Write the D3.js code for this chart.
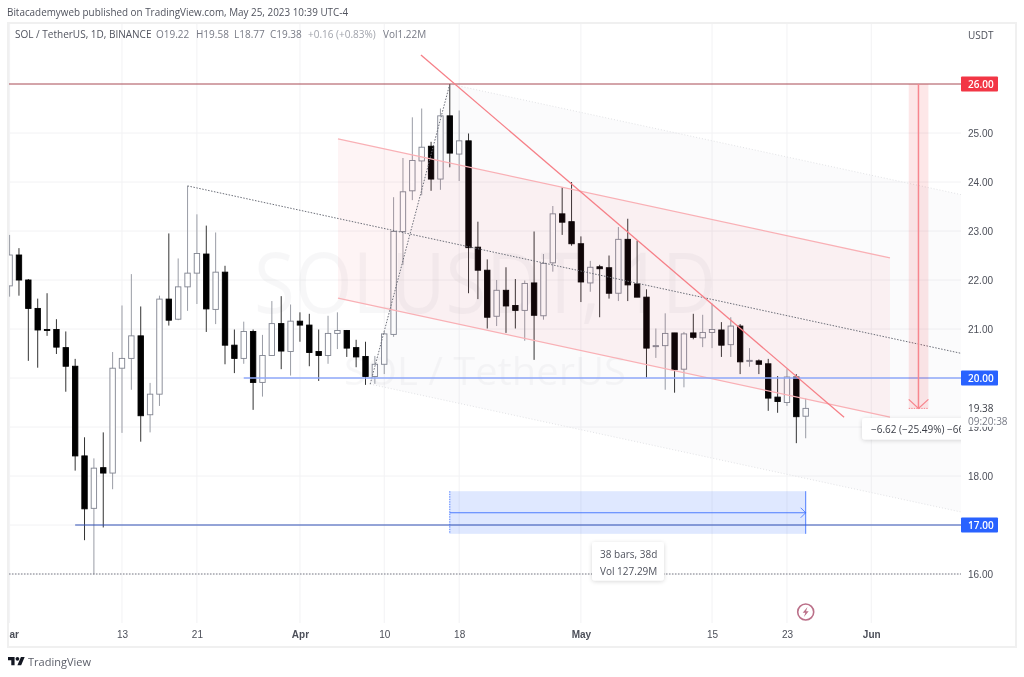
<!DOCTYPE html>
<html>
<head>
<meta charset="utf-8">
<script src="https://cdn.jsdelivr.net/npm/d3@7"></script>
<style>
  html, body { margin: 0; padding: 0; background: #fff; }
  svg { display: block; filter: blur(0.35px); font-family: "Open Sans", sans-serif; }
</style>
</head>
<body>
<div id="chart"></div>
<script>
// one entry per daily bar, Mar 1 2023 is bar 0
let opens = [21.88,22.51,22.00,21.42,20.99,20.99,20.62,20.24,18.41,17.34,18.17,18.06,20.20,20.40,20.86,19.25,19.67,21.61,21.20,21.86,
  22.14,22.53,21.40,22.16,20.67,20.40,20.95,19.91,20.46,21.11,20.54,21.16,21.08,20.54,20.46,20.91,20.97,20.62,20.44,20.03,
  20.28,20.89,22.99,23.82,24.43,24.73,24.06,25.35,24.57,24.84,22.67,22.20,21.26,21.79,21.48,21.38,21.94,21.27,22.35,23.35,
  23.19,22.74,21.94,22.27,22.25,21.73,22.83,21.92,21.65,20.64,20.66,20.92,20.18,20.92,20.82,20.93,20.98,20.68,21.06,20.35,
  20.35,20.29,19.61,19.50,20.02,19.22]
let highs = [22.92,22.65,22.02,21.62,21.73,21.20,20.95,20.39,18.79,18.36,18.89,20.53,21.48,22.12,21.46,19.90,21.68,22.95,22.44,23.92,
  23.34,23.11,22.97,22.29,20.99,21.15,20.99,20.88,21.57,21.67,21.50,21.34,21.31,20.99,21.27,21.34,20.98,20.78,20.74,20.45,
  20.94,23.69,24.49,25.32,25.50,24.82,25.50,26.00,25.46,24.99,23.19,22.42,22.00,22.26,22.02,21.99,22.99,22.53,23.51,23.89,
  24.00,22.89,22.39,22.31,22.50,23.08,23.25,22.80,21.81,21.01,21.32,20.92,20.94,21.31,21.29,21.52,21.14,21.24,21.10,20.61,
  20.38,20.39,20.04,20.18,20.08,19.58]
let lows = [21.66,21.68,20.35,20.21,20.86,20.49,19.72,18.11,16.69,15.99,16.95,17.73,18.88,19.76,18.70,18.89,19.43,21.07,21.18,21.37,
  21.51,20.94,21.10,20.28,20.10,20.29,19.35,19.62,20.45,20.18,20.05,20.74,20.24,19.94,20.29,20.59,20.43,20.22,19.86,19.88,
  20.08,20.84,22.31,23.63,23.73,23.82,23.84,24.30,24.02,21.73,21.61,21.01,21.06,20.92,21.01,20.76,20.37,21.19,22.17,22.92,
  22.70,21.55,21.76,21.24,21.62,21.57,21.57,21.65,20.01,20.41,19.76,19.70,19.81,20.79,20.63,20.61,20.43,20.43,20.08,20.23,
  20.08,19.33,19.29,19.43,18.67,18.77]
let closes = [22.51,22.00,21.42,20.98,20.97,20.63,20.24,18.41,17.33,18.16,18.06,20.20,20.40,20.86,19.23,19.67,21.61,21.18,21.86,22.14,
  22.54,21.41,22.16,20.67,20.40,20.95,19.91,20.46,21.11,20.55,21.16,21.08,20.52,20.46,20.91,20.97,20.61,20.43,20.03,20.28,
  20.90,22.99,23.80,24.44,24.71,24.06,25.35,24.59,24.84,22.66,22.20,21.24,21.79,21.47,21.38,21.93,21.28,22.34,23.35,23.18,
  22.74,21.96,22.26,22.23,21.73,22.83,21.90,21.65,20.61,20.66,20.91,20.17,20.90,20.83,20.93,20.99,20.67,21.06,20.33,20.36,
  20.28,19.59,19.52,20.02,19.21,19.38]

let priceTicks = [25, 24, 23, 22, 21, 19, 18, 16]
let gridPrices = [25, 24, 23, 22, 21, 20, 19, 18, 17, 16]
let timeBars = [0, 12, 20, 31, 40, 48, 61, 75, 83, 92]
let timeLabels = ['Mar', '13', '21', 'Apr', '10', '18', 'May', '15', '23', 'Jun']
let monthLabels = ['Mar', 'Apr', 'May', 'Jun']

let levelPrices = [26, 20, 17]
let levelColors = ['#f23645', '#2962ff', '#2962ff']

// drawings, as [bar, price]
let forkPivot = [19, 23.92]
let forkLow = [38.5, 19.875]
let forkHigh = [47, 26]
let channelTop = [[35.06, 24.88], [94, 22.45]]
let channelBottom = [[35.06, 21.63], [94, 19.2]]
let trendLine = [[43.92, 26.59], [89.1, 19.2]]

let width = 1024
let height = 677
let paneRight = 961
let paneBottom = 623

let x = d3.scaleLinear().domain([0, 85]).range([9.6, 805.7])
let y = d3.scaleLinear().domain([16, 26]).range([574, 84])
let lastBar = x.invert(paneRight)

let svg = d3
  .select('#chart')
  .append('svg')
  .attr('width', width)
  .attr('height', height)

let defs = svg.append('defs')
defs.append('clipPath').attr('id', 'pane')
  .append('rect').attr('x', 9).attr('y', 24).attr('width', paneRight - 9).attr('height', paneBottom - 24)
defs.append('clipPath').attr('id', 'frame')
  .append('rect').attr('x', 9).attr('y', 24).attr('width', 1006).attr('height', 622)
let shadow = defs.append('filter').attr('id', 'shadow')
  .attr('x', '-20%').attr('y', '-30%').attr('width', '140%').attr('height', '160%')
shadow.append('feDropShadow').attr('dx', 0).attr('dy', 1).attr('stdDeviation', 2)
  .attr('flood-color', '#000').attr('flood-opacity', 0.16)

let line = d3.line().x(d => x(d[0])).y(d => y(d[1]))

function extend(p, slope, toBar) {
  return [toBar, p[1] + (toBar - p[0]) * slope]
}

// header
svg.append('text').attr('x', 7).attr('y', 16).attr('font-size', 9.9).attr('fill', '#50535e')
  .text('Bitacademyweb published on TradingView.com, May 25, 2023 10:39 UTC-4')

// frame
svg.append('rect').attr('x', 8).attr('y', 23).attr('width', 1008).attr('height', 624)
  .attr('fill', '#fff').attr('stroke', '#f0f0f0').attr('stroke-width', 2)

let pane = svg.append('g').attr('clip-path', 'url(#pane)')

// grid
pane.selectAll('.grid-h').data(gridPrices).enter().append('line')
  .attr('x1', 9).attr('x2', paneRight)
  .attr('y1', d => y(d)).attr('y2', d => y(d))
  .attr('stroke', '#f2f2f4').attr('stroke-width', 1)
pane.selectAll('.grid-v').data(timeBars).enter().append('line')
  .attr('x1', d => x(d)).attr('x2', d => x(d))
  .attr('y1', 24).attr('y2', paneBottom)
  .attr('stroke', '#f2f2f4').attr('stroke-width', 1)

// watermark
pane.append('text').attr('x', 485).attr('y', 313).attr('text-anchor', 'middle')
  .attr('font-size', 84).attr('fill', '#787b86').attr('opacity', 0.05)
  .attr('textLength', 462).attr('lengthAdjust', 'spacingAndGlyphs')
  .text('SOLUSDT, 1D')
pane.append('text').attr('x', 485).attr('y', 385).attr('text-anchor', 'middle')
  .attr('font-size', 38).attr('fill', '#787b86').attr('opacity', 0.05)
  .attr('textLength', 282).attr('lengthAdjust', 'spacingAndGlyphs')
  .text('SOL / TetherUS')

// candles
let bars = d3.range(opens.length)
let barColor = i => closes[i] >= opens[i] ? '#808490' : '#000'

pane.selectAll('.wick').data(bars).enter().append('line')
  .attr('x1', i => x(i)).attr('x2', i => x(i))
  .attr('y1', i => y(highs[i])).attr('y2', i => y(lows[i]))
  .attr('stroke', i => closes[i] >= opens[i] ? '#9a9da6' : '#333')
  .attr('stroke-width', 1)
pane.selectAll('.body').data(bars).enter().append('rect')
  .attr('x', i => x(i) - 2.7)
  .attr('width', 5.4)
  .attr('y', i => y(Math.max(opens[i], closes[i])))
  .attr('height', i => Math.max(1, Math.abs(y(opens[i]) - y(closes[i]))))
  .attr('fill', i => closes[i] >= opens[i] ? '#fff' : '#000')
  .attr('stroke', barColor)
  .attr('stroke-width', 0.9)

// pitchfork
let forkMid = [(forkLow[0] + forkHigh[0]) / 2, (forkLow[1] + forkHigh[1]) / 2]
let forkSlope = (forkMid[1] - forkPivot[1]) / (forkMid[0] - forkPivot[0])
let forkHighEnd = extend(forkHigh, forkSlope, lastBar)
let forkLowEnd = extend(forkLow, forkSlope, lastBar)

pane.append('path')
  .attr('d', line([forkHigh, forkHighEnd, forkLowEnd, forkLow]) + 'Z')
  .attr('fill', '#787b86').attr('opacity', 0.028)
pane.selectAll('.fork-side').data([[forkHigh, forkHighEnd], [forkLow, forkLowEnd]]).enter().append('path')
  .attr('d', line).attr('fill', 'none')
  .attr('stroke', '#e2e3e6').attr('stroke-dasharray', '1 2')

// parallel channel
pane.append('path')
  .attr('d', line([channelTop[0], channelTop[1], channelBottom[1], channelBottom[0]]) + 'Z')
  .attr('fill', '#f23645').attr('opacity', 0.055)
pane.selectAll('.channel').data([channelTop, channelBottom]).enter().append('path')
  .attr('d', line).attr('fill', 'none')
  .attr('stroke', '#f9b0b5').attr('stroke-width', 1.3)

pane.append('path')
  .attr('d', line([forkLow, forkHigh]))
  .attr('fill', 'none').attr('stroke', '#6b6e78').attr('stroke-dasharray', '1.5 1.5')
pane.append('path')
  .attr('d', line([forkPivot, extend(forkPivot, forkSlope, lastBar)]))
  .attr('fill', 'none').attr('stroke', '#6b6e78').attr('stroke-dasharray', '1.5 1.5')

// levels
pane.append('line').attr('x1', 9).attr('x2', paneRight).attr('y1', y(16)).attr('y2', y(16))
  .attr('stroke', '#787b86').attr('stroke-dasharray', '1.5 1.5')
pane.append('line').attr('x1', 9).attr('x2', paneRight).attr('y1', y(26)).attr('y2', y(26))
  .attr('stroke', '#a84a55').attr('stroke-width', 1)
pane.append('line').attr('x1', x(25)).attr('x2', paneRight).attr('y1', y(20)).attr('y2', y(20))
  .attr('stroke', '#8fa8fa').attr('stroke-width', 1.6)

// date range
pane.append('rect')
  .attr('x', x(47)).attr('width', x(85) - x(47))
  .attr('y', y(17.69)).attr('height', y(16.82) - y(17.69))
  .attr('fill', '#2962ff').attr('opacity', 0.15)
pane.append('line').attr('x1', x(7)).attr('x2', paneRight).attr('y1', y(17)).attr('y2', y(17))
  .attr('stroke', '#2f4fb5').attr('stroke-width', 1)
pane.append('line').attr('x1', x(47)).attr('x2', x(47)).attr('y1', y(17.69)).attr('y2', y(16.82))
  .attr('stroke', '#2962ff').attr('stroke-dasharray', '1.5 1').attr('opacity', 0.8)
pane.append('line').attr('x1', x(85)).attr('x2', x(85)).attr('y1', y(17.69)).attr('y2', y(16.82))
  .attr('stroke', '#2962ff').attr('opacity', 0.8)
pane.append('line').attr('x1', x(47)).attr('x2', x(85)).attr('y1', y(17.25)).attr('y2', y(17.25))
  .attr('stroke', '#2962ff').attr('opacity', 0.8)
pane.append('path')
  .attr('d', 'M' + (x(85) - 5) + ',' + (y(17.25) - 5) + 'L' + x(85) + ',' + y(17.25) + 'L' + (x(85) - 5) + ',' + (y(17.25) + 5))
  .attr('fill', 'none').attr('stroke', '#2962ff').attr('opacity', 0.7)

let rangeBox = pane.append('g').attr('transform', 'translate(592,542)')
rangeBox.append('rect').attr('width', 72).attr('height', 38.5).attr('rx', 3)
  .attr('fill', '#fff').attr('filter', 'url(#shadow)')
rangeBox.append('text').attr('x', 8).attr('y', 15.5).attr('font-size', 10).attr('fill', '#50535e').text('38 bars, 38d')
rangeBox.append('text').attr('x', 8).attr('y', 32.5).attr('font-size', 10).attr('fill', '#50535e').text('Vol 127.29M')

// price range
pane.append('rect')
  .attr('x', x(96)).attr('width', x(98.1) - x(96))
  .attr('y', y(26)).attr('height', y(19.38) - y(26))
  .attr('fill', '#f23645').attr('opacity', 0.12)
pane.append('line').attr('x1', x(97.04)).attr('x2', x(97.04)).attr('y1', y(26)).attr('y2', y(19.38))
  .attr('stroke', '#f7868e').attr('stroke-width', 1.5)
pane.append('line').attr('x1', x(96)).attr('x2', x(98.1)).attr('y1', y(19.38)).attr('y2', y(19.38))
  .attr('stroke', '#f7868e').attr('stroke-dasharray', '1.5 1')
pane.append('path')
  .attr('d', 'M' + x(96) + ',' + (y(19.38) - 9) + 'L' + x(97.04) + ',' + y(19.38) + 'L' + x(98.1) + ',' + (y(19.38) - 9))
  .attr('fill', 'none').attr('stroke', '#f7868e').attr('stroke-width', 1.3)

// trend line
pane.append('path').attr('d', line(trendLine)).attr('fill', 'none')
  .attr('stroke', '#f67f87').attr('stroke-width', 1.3)

let priceBox = pane.append('g').attr('transform', 'translate(862,418)')
priceBox.append('rect').attr('width', 130).attr('height', 21.5).attr('rx', 3)
  .attr('fill', '#fff').attr('filter', 'url(#shadow)')
priceBox.append('text').attr('x', 9).attr('y', 14.5).attr('font-size', 10).attr('fill', '#3a3d46')
  .text('−6.62 (−25.49%) −662')

// news icon
let news = pane.append('g').attr('transform', 'translate(' + x(85) + ',612)')
news.append('circle').attr('r', 8).attr('fill', '#fff').attr('stroke', '#bb7089').attr('stroke-width', 1.6)
news.append('path').attr('d', 'M1.8,-5 L-3,0.8 L-0.3,0.8 L-1.8,5 L3,-0.8 L0.3,-0.8 Z').attr('fill', '#bb7089')

// price axis
let axisLayer = svg.append('g').attr('clip-path', 'url(#frame)')
axisLayer.append('g')
  .attr('transform', 'translate(' + paneRight + ',0)')
  .call(d3.axisRight(y).tickValues(priceTicks).tickFormat(d3.format('.2f')).tickSize(0).tickPadding(7))
  .call(g => g.select('.domain').remove())
  .call(g => g.selectAll('text').attr('font-size', 10).attr('font-family', 'inherit').attr('fill', '#4c4f59'))

axisLayer.append('text').attr('x', 968).attr('y', 39).attr('font-size', 10).attr('fill', '#4c4f59').text('USDT')

// last price, covers most of the 19.00 tick
axisLayer.append('rect').attr('x', paneRight).attr('y', y(19.38) - 7).attr('width', 40).attr('height', 25.5).attr('fill', '#fff')
axisLayer.append('text').attr('x', 968).attr('y', y(19.38) + 4).attr('font-size', 10).attr('fill', '#3a3d46').text('19.38')
axisLayer.append('text').attr('x', 968).attr('y', y(19.38) + 17).attr('font-size', 10).attr('fill', '#787b86').text('09:20:38')

let levels = axisLayer.selectAll('.level').data(levelPrices).enter().append('g')
  .attr('transform', d => 'translate(' + paneRight + ',' + y(d) + ')')
levels.append('rect').attr('x', 0).attr('y', -7.5).attr('width', 37).attr('height', 15).attr('rx', 1)
  .attr('fill', (d, i) => levelColors[i])
levels.append('text').attr('x', 7).attr('y', 3.7).attr('font-size', 10).attr('font-weight', 600).attr('fill', '#fff')
  .text(d3.format('.2f'))

// time axis
axisLayer.append('g')
  .attr('transform', 'translate(0,' + paneBottom + ')')
  .call(d3.axisBottom(x).tickValues(timeBars).tickFormat((d, i) => timeLabels[i]).tickSize(0).tickPadding(8))
  .call(g => g.select('.domain').remove())
  .call(g => g.selectAll('text').attr('font-size', 10).attr('font-family', 'inherit').attr('fill', '#4c4f59')
    .attr('font-weight', (d, i) => monthLabels.includes(timeLabels[i]) ? 600 : 400))

// legend
let legend = svg.append('text').attr('y', 38).attr('font-size', 10)
let legendItems = [
  ['SOL / TetherUS, 1D, BINANCE', 15, '#50535e'],
  ['O19.22', 156, '#787b86'],
  ['H19.58', 196, '#787b86'],
  ['L18.77', 234, '#787b86'],
  ['C19.38', 270, '#787b86'],
  ['+0.16 (+0.83%)', 308, '#a0a3ab'],
  ['Vol1.22M', 383, '#787b86']
]
legendItems.forEach(function(d) {
  legend.append('tspan').attr('x', d[1]).attr('fill', d[2]).text(d[0])
})

// footer logo
let logo = svg.append('g').attr('transform', 'translate(8,655) scale(0.47)').attr('fill', '#131722')
logo.append('path').attr('d', 'M14 22H7V11H0V4h14v18zM28 22h-8l7.5-18h8L28 22z')
logo.append('circle').attr('cx', 20).attr('cy', 8).attr('r', 4)
svg.append('text').attr('x', 28).attr('y', 666).attr('font-size', 11).attr('fill', '#5b5e69').text('TradingView')
</script>
</body>
</html>
